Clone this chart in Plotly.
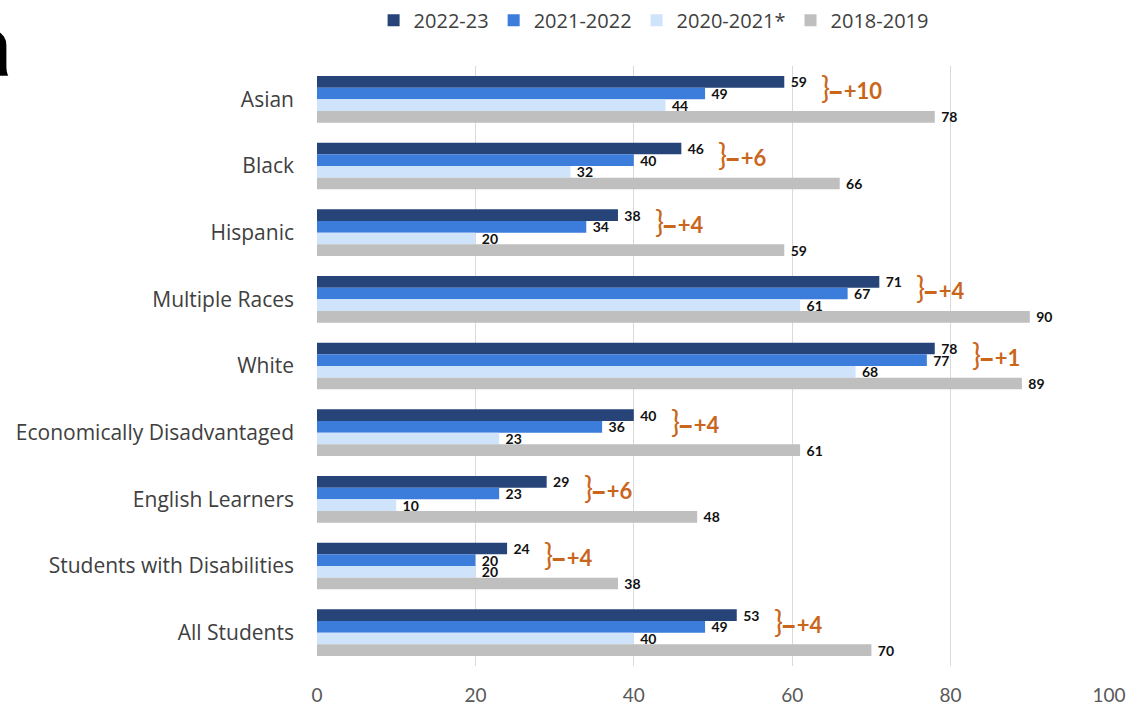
import plotly.graph_objects as go

categories = ["Asian", "Black", "Hispanic", "Multiple Races", "White",
              "Economically Disadvantaged", "English Learners",
              "Students with Disabilities", "All Students"]
series_names = ["2022-23", "2021-2022", "2020-2021*", "2018-2019"]
v_2022_23 = [59, 46, 38, 71, 78, 40, 29, 24, 53]
v_2021_22 = [49, 40, 34, 67, 77, 36, 23, 20, 49]
v_2020_21 = [44, 32, 20, 61, 68, 23, 10, 20, 40]
v_2018_19 = [78, 66, 59, 90, 89, 61, 48, 38, 70]
gains = ["+10", "+6", "+4", "+4", "+1", "+4", "+6", "+4", "+4"]
x_ticks = [0, 20, 40, 60, 80, 100]

colors = ["#264478", "#3C7DDC", "#CFE3FA", "#BFBFBF"]
font_family = "Lato"
label_family = "Open Sans"

fig = go.Figure()
for name, vals, col in zip(series_names, [v_2022_23, v_2021_22, v_2020_21, v_2018_19], colors):
    fig.add_trace(go.Bar(
        name=name, y=categories, x=vals, orientation="h",
        marker=dict(color=col, line=dict(width=0)),
        text=["\u00a0" + str(v) for v in vals], textposition="outside",
        textfont=dict(family=font_family, size=14, color="#111111", weight="bold"),
        constraintext="none", cliponaxis=False,
    ))

for cat, v, g in zip(categories, v_2022_23, gains):
    fig.add_annotation(
        x=v, y=cat, xref="x", yref="y", xanchor="left", yanchor="middle",
        xshift=35, yshift=12, showarrow=False,
        text='<span style="font-size:30px">}</span><span style="font-size:19px">━</span>\u2009<b>' + g + "</b>",
        font=dict(family=font_family, size=22, color="#C9661C"),
    )

fig.add_annotation(
    xref="paper", yref="paper", x=0, y=1.034, xanchor="right", yanchor="middle",
    xshift=-317 + 13, showarrow=False, text="<b>a</b>",
    font=dict(family="Roboto", size=88, color="#000000"),
)

fig.update_layout(
    width=1138, height=718,
    margin=dict(l=317, r=23, t=66, b=43, pad=0),
    paper_bgcolor="white", plot_bgcolor="white",
    barmode="group", bargap=0.3, bargroupgap=0,
    font=dict(family=font_family, color="#404040"),
    legend=dict(orientation="h", x=0.425, xanchor="center", y=0.999, yanchor="top",
                yref="container",
                font=dict(family=label_family, size=20, color="#404040"),
                traceorder="normal", itemwidth=30),
    showlegend=True,
)
fig.update_xaxes(range=[0, 100], tickvals=x_ticks, showgrid=True, gridcolor="#D9D9D9",
                 gridwidth=1, zeroline=False, showline=False,
                 ticks="outside", ticklen=0,
                 tickfont=dict(family=font_family, size=19, color="#595959"),
                 ticklabelstandoff=12)
fig.update_yaxes(autorange="reversed", showgrid=False, zeroline=False, showline=False,
                 tickfont=dict(family=label_family, size=21, color="#404040"),
                 ticks="", ticklabelstandoff=22)

fig.write_html("out.html")
